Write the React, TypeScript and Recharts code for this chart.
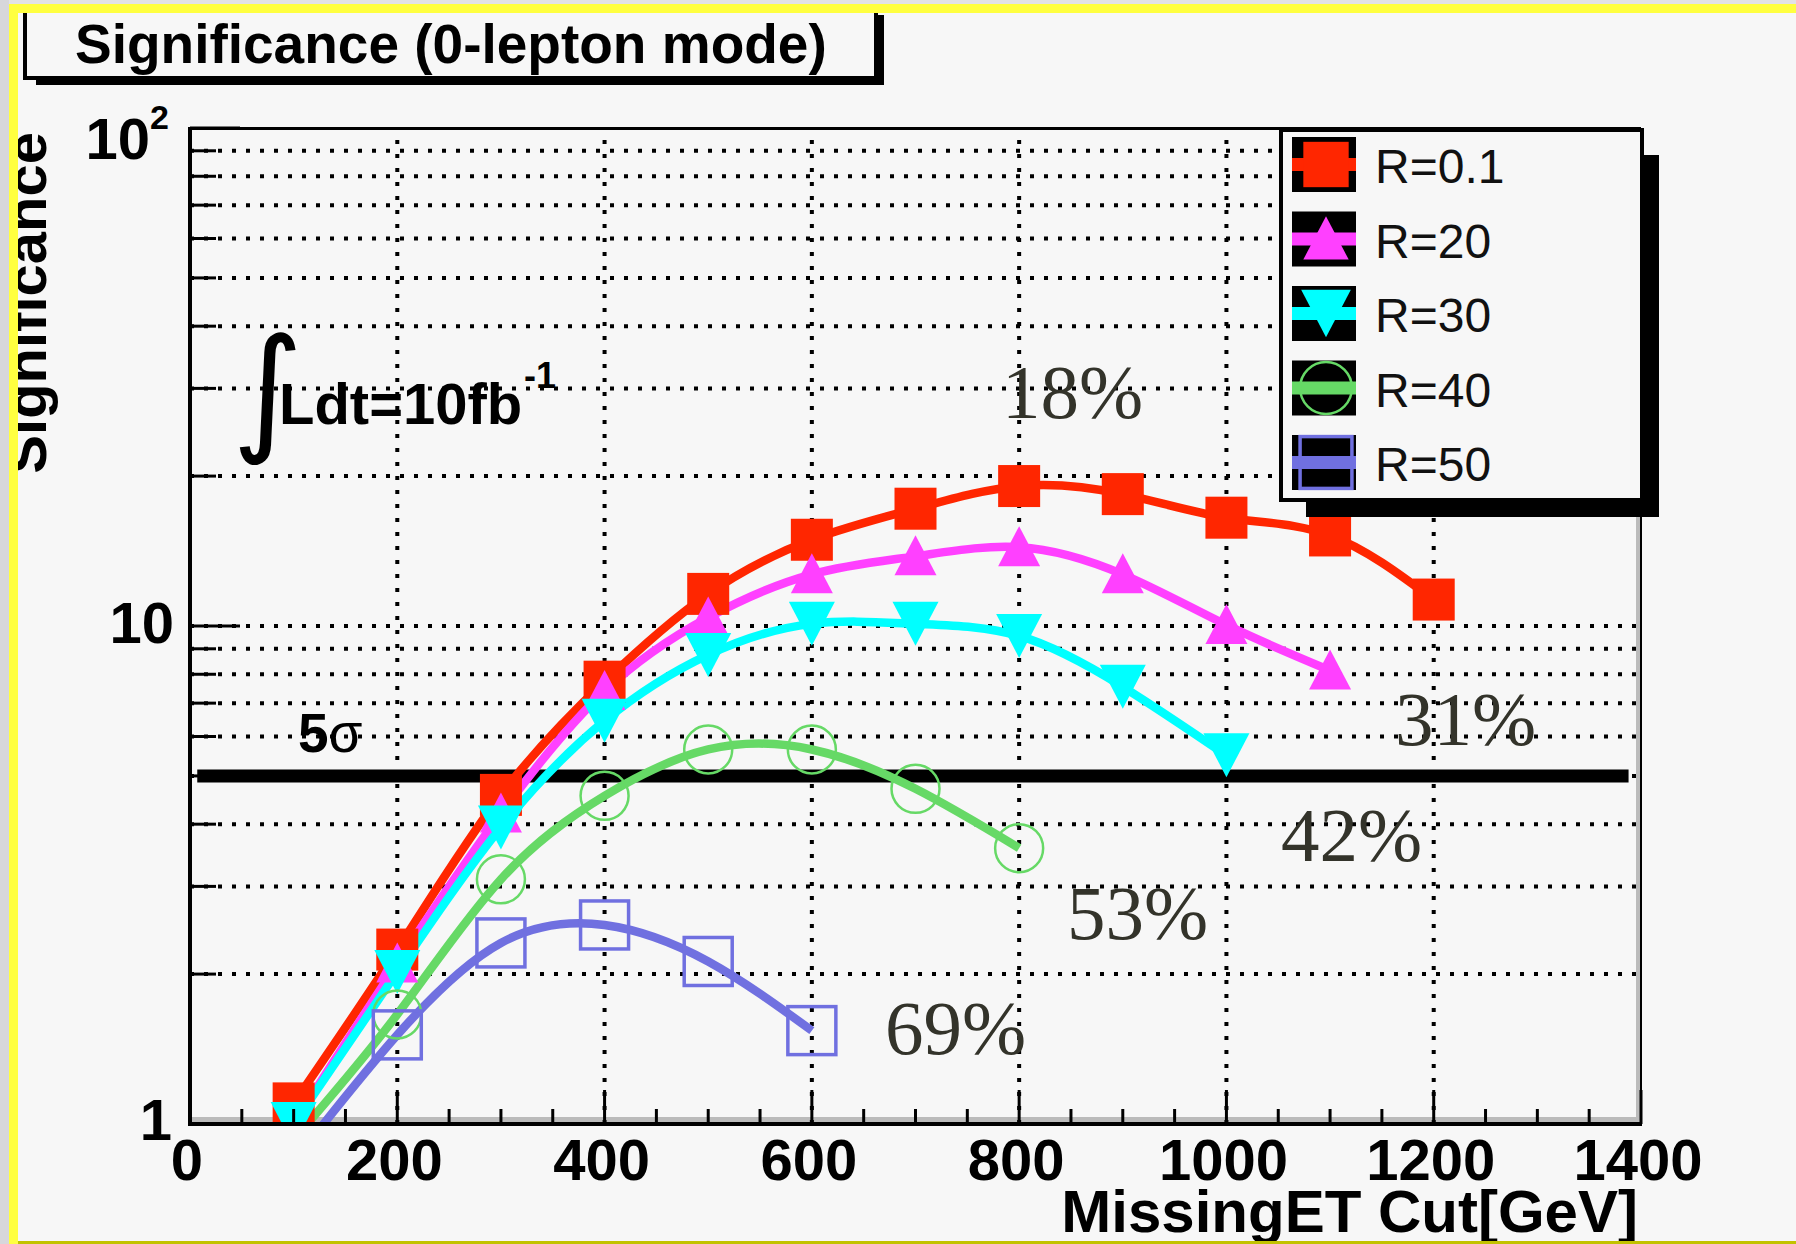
import React from 'react';
import { LineChart, Line, XAxis, YAxis, ReferenceLine } from 'recharts';

// ---------------- data ----------------
const missingEtR01 = [100, 200, 300, 400, 500, 600, 700, 800, 900, 1000, 1100, 1200];
const signifR01 = [1.1, 2.24, 4.58, 7.73, 11.6, 14.9, 17.2, 19.1, 18.4, 16.5, 15.2, 11.3];
const missingEtR20 = [100, 200, 300, 400, 500, 600, 700, 800, 900, 1000, 1100];
const signifR20 = [1.0, 2.1, 4.2, 7.4, 10.4, 12.7, 13.8, 14.4, 12.7, 10.05, 8.14];
const missingEtR30 = [100, 200, 300, 400, 500, 600, 700, 800, 900, 1000];
const signifR30 = [1.0, 2.02, 3.94, 6.45, 8.75, 10.1, 10.1, 9.55, 7.55, 5.5];
const missingEtR40 = [100, 200, 300, 400, 500, 600, 700, 800];
const signifR40 = [0.93, 1.66, 3.1, 4.56, 5.65, 5.65, 4.71, 3.58];
const missingEtR50 = [100, 200, 300, 400, 500, 600];
const signifR50 = [0.84, 1.51, 2.31, 2.51, 2.12, 1.54];

const seriesNames = ['R=0.1', 'R=20', 'R=30', 'R=40', 'R=50'];
const seriesColors = ['#ff2600', '#ff40ff', '#00ffff', '#66d966', '#7070e0'];
const seriesMarkers = ['squareFilled', 'triUp', 'triDown', 'circleOpen', 'squareOpen'];

const xTickValues = [0, 50, 100, 150, 200, 250, 300, 350, 400, 450, 500, 550, 600, 650, 700, 750, 800, 850, 900, 950, 1000, 1050, 1100, 1150, 1200, 1250, 1300, 1350, 1400];
const xLabelValues = [0, 200, 400, 600, 800, 1000, 1200, 1400];
const yTickValues = [1, 2, 3, 4, 5, 6, 7, 8, 9, 10, 20, 30, 40, 50, 60, 70, 80, 90, 100];
const yLabelValues = [1, 10, 100];
const xGridValues = [200, 400, 600, 800, 1000, 1200];
const yGridValues = [2, 3, 4, 5, 6, 7, 8, 9, 10, 20, 30, 40, 50, 60, 70, 80, 90];
const fiveSigma = 5;
const efficiencyLabels = ['18%', '31%', '42%', '53%', '69%'];

const titleText = 'Significance (0-lepton mode)';
const yTitle = 'Significance';
const xTitle = 'MissingET Cut[GeV]';

// ---------------- layout ----------------
const W = 1796;
const H = 1244;
const PL = 190;
const PR = 1641;
const PT = 128;
const PB = 1124;
const SANS = '"Liberation Sans", Arial, Helvetica, sans-serif';
const SERIF = '"Liberation Serif", "Times New Roman", serif';
const BG = '#f7f7f7';
const effPos = [
  [1002, 418],
  [1395, 745],
  [1281, 861],
  [1067, 939],
  [885, 1054],
];

const seriesData = [
  [missingEtR01, signifR01],
  [missingEtR20, signifR20],
  [missingEtR30, signifR30],
  [missingEtR40, signifR40],
  [missingEtR50, signifR50],
].map(([xs, ys]) => xs.map((x, i) => ({ x, y: ys[i] })));

function Marker({ kind, cx, cy, color, s = 1 }: any) {
  switch (kind) {
    case 'squareFilled':
      return <rect x={cx - 21 * s} y={cy - 21 * s} width={42 * s} height={42 * s} fill={color} />;
    case 'triUp':
      return (
        <polygon
          points={`${cx},${cy - 21 * s} ${cx + 21 * s},${cy + 19 * s} ${cx - 21 * s},${cy + 19 * s}`}
          fill={color}
        />
      );
    case 'triDown':
      return (
        <polygon
          points={`${cx - 23 * s},${cy - 22 * s} ${cx + 23 * s},${cy - 22 * s} ${cx},${cy + 22 * s}`}
          fill={color}
        />
      );
    case 'circleOpen':
      return <circle cx={cx} cy={cy} r={24 * s} fill="none" stroke={color} strokeWidth={2.5} />;
    case 'squareOpen':
      return (
        <rect
          x={cx - 24 * s}
          y={cy - 24 * s}
          width={48 * s}
          height={48 * s}
          fill="none"
          stroke={color}
          strokeWidth={3.5}
        />
      );
    default:
      return null;
  }
}

const makeDot = (kind: string, color: string) => (props: any) => {
  const { cx, cy, payload, index } = props;
  if (cx == null || cy == null || payload.y < 0.99) return <g key={`d${index}`} />;
  return (
    <g key={`d${index}`}>
      <Marker kind={kind} cx={cx} cy={cy} color={color} />
    </g>
  );
};

const XTick = (props: any) => {
  const { x, y, payload } = props;
  const v = payload.value;
  const major = xLabelValues.includes(v);
  return (
    <g>
      <line x1={x} x2={x} y1={y} y2={y - (major ? 34 : 15)} stroke="#000" strokeWidth={3} />
      {major && (
        <text x={x - 3} y={y + 56} textAnchor="middle" fontFamily={SANS} fontWeight="bold" fontSize={58} fill="#000">
          {String(v)}
        </text>
      )}
    </g>
  );
};

const YTick = (props: any) => {
  const { x, y, payload } = props;
  const v = payload.value;
  const major = yLabelValues.includes(v);
  let label: any = null;
  if (v === 1) {
    label = (
      <text x={x - 18} y={y + 16} textAnchor="end" fontFamily={SANS} fontWeight="bold" fontSize={58} fill="#000">
        1
      </text>
    );
  } else if (v === 10) {
    label = (
      <text x={x - 16} y={y + 17} textAnchor="end" fontFamily={SANS} fontWeight="bold" fontSize={58} fill="#000">
        10
      </text>
    );
  } else if (v === 100) {
    label = (
      <g>
        <text x={x - 40} y={y + 31} textAnchor="end" fontFamily={SANS} fontWeight="bold" fontSize={58} fill="#000">
          10
        </text>
        <text x={x - 40} y={y + 1} textAnchor="start" fontFamily={SANS} fontWeight="bold" fontSize={34} fill="#000">
          2
        </text>
      </g>
    );
  }
  return (
    <g>
      <line x1={x} x2={x + (major ? 50 : 26)} y1={y} y2={y} stroke="#000" strokeWidth={3} />
      {label}
    </g>
  );
};

export default function App() {
  return (
    <div style={{ position: 'absolute', left: 0, top: 0, width: W, height: H, background: BG, overflow: 'hidden' }}>
      {/* under layer */}
      <svg width={W} height={H} style={{ position: 'absolute', left: 0, top: 0 }}>
        <rect x={PL} y={PB - 7} width={PR - PL} height={5} fill="#bbbbbb" />
        <rect x={PR - 5} y={PT} width={5} height={PB - PT} fill="#bbbbbb" />
      </svg>

      <div style={{ position: 'absolute', left: 0, top: 0 }}>
        <LineChart width={W} height={H} margin={{ top: PT, right: W - PR, bottom: 20, left: 90 }}>
          <XAxis
            type="number"
            dataKey="x"
            domain={[0, 1400]}
            ticks={xTickValues}
            interval={0}
            height={100}
            tickSize={0}
            tickMargin={0}
            tickLine={false}
            axisLine={false}
            tick={XTick}
            allowDataOverflow
          />
          <YAxis
            type="number"
            dataKey="y"
            scale="log"
            domain={[1, 100]}
            ticks={yTickValues}
            interval={0}
            width={100}
            tickSize={0}
            tickMargin={0}
            tickLine={false}
            axisLine={false}
            tick={YTick}
            allowDataOverflow
          />
          {xGridValues.map((v) => (
            <ReferenceLine
              key={`gx${v}`}
              x={v}
              stroke="#000"
              strokeWidth={4}
              strokeDasharray="4 10"
              zIndex={-50}
            />
          ))}
          {yGridValues.map((v) => (
            <ReferenceLine
              key={`gy${v}`}
              y={v}
              stroke="#000"
              strokeWidth={4}
              strokeDasharray="4 10"
              zIndex={-50}
            />
          ))}
          <ReferenceLine
            segment={[
              { x: 7, y: fiveSigma },
              { x: 1388, y: fiveSigma },
            ]}
            stroke="#000"
            strokeWidth={13}
            zIndex={-40}
          />
          {seriesData.map((d, i) => (
            <Line
              key={seriesNames[i]}
              data={d}
              dataKey="y"
              name={seriesNames[i]}
              type="natural"
              stroke={seriesColors[i]}
              strokeWidth={8.5}
              dot={makeDot(seriesMarkers[i], seriesColors[i])}
              activeDot={false}
              isAnimationActive={false}
            />
          ))}
        </LineChart>
      </div>

      {/* over layer */}
      <svg width={W} height={H} style={{ position: 'absolute', left: 0, top: 0, pointerEvents: 'none' }}>
        {/* plot frame */}
        <line x1={PL} x2={PR} y1={PT + 0.5} y2={PT + 0.5} stroke="#000" strokeWidth={3} />
        <line x1={PR} x2={PR} y1={PT} y2={PB} stroke="#000" strokeWidth={2} />
        <line x1={PL} x2={PL} y1={PT - 1} y2={PB + 2} stroke="#000" strokeWidth={4} />
        <line x1={PL - 2} x2={PR + 1} y1={PB} y2={PB} stroke="#000" strokeWidth={4} />

        {/* percentage annotations */}
        {efficiencyLabels.map((t, i) => (
          <text key={t} x={effPos[i][0]} y={effPos[i][1]} fontFamily={SERIF} fontSize={77} fill="#33332a">
            {t}
          </text>
        ))}

        {/* 5 sigma label */}
        <text x={298} y={752} fontFamily={SANS} fontSize={55} fill="#000">
          <tspan fontWeight="bold">5</tspan>
          <tspan>σ</tspan>
        </text>

        {/* luminosity label */}
        <text x={232} y={436} fontFamily='"DejaVu Sans", sans-serif' fontSize={137} fill="#000">
          ∫
        </text>
        <text x={279} y={424} fontFamily={SANS} fontWeight="bold" fontSize={58} fill="#000">
          Ldt=10fb
        </text>
        <text x={524} y={388} fontFamily={SANS} fontWeight="bold" fontSize={36} fill="#000">
          -1
        </text>

        {/* axis titles */}
        <text
          x={46}
          y={132}
          transform="rotate(-90, 46, 132)"
          textAnchor="end"
          fontFamily={SANS}
          fontWeight="bold"
          fontSize={58}
          fill="#000"
        >
          {yTitle}
        </text>
        <text x={1638} y={1232} textAnchor="end" fontFamily={SANS} fontWeight="bold" fontSize={60} fill="#000">
          {xTitle}
        </text>

        {/* legend */}
        <rect x={1644} y={155} width={15} height={362} fill="#000" />
        <rect x={1306} y={502} width={353} height={15} fill="#000" />
        <rect x={1281} y={130} width={361} height={370} fill={BG} stroke="#000" strokeWidth={4} />
        {seriesNames.map((n, i) => {
          const cy = 164.5 + i * 74.5;
          return (
            <g key={n}>
              <rect x={1292} y={cy - 27.5} width={64} height={55} fill="#000" />
              <rect x={1292} y={cy - 6.5} width={64} height={13} fill={seriesColors[i]} />
              <Marker kind={seriesMarkers[i]} cx={1326} cy={cy} color={seriesColors[i]} s={1.08} />
              <text x={1375} y={cy + 18.5} fontFamily={SANS} fontSize={48} fill="#111">
                {n}
              </text>
            </g>
          );
        })}

        {/* title box */}
        <rect x={36} y={80} width={848} height={5} fill="#000" />
        <rect x={878} y={15} width={6} height={70} fill="#000" />
        <rect x={25} y={11} width={851} height={67} fill={BG} stroke="#000" strokeWidth={4} />
        <text x={75} y={63} fontFamily={SANS} fontWeight="bold" fontSize={55} fill="#000">
          {titleText}
        </text>

        {/* page border */}
        <rect x={0} y={0} width={9} height={H} fill="#d7d7db" />
        <rect x={9} y={0} width={W - 9} height={4} fill="#e2e2e6" />
        <rect x={9} y={4} width={9} height={H - 4} fill="#ffff40" />
        <rect x={9} y={4} width={W - 9} height={9} fill="#ffff40" />
        <rect x={18} y={1241} width={W - 18} height={3} fill="#c2c200" />
      </svg>
    </div>
  );
}
